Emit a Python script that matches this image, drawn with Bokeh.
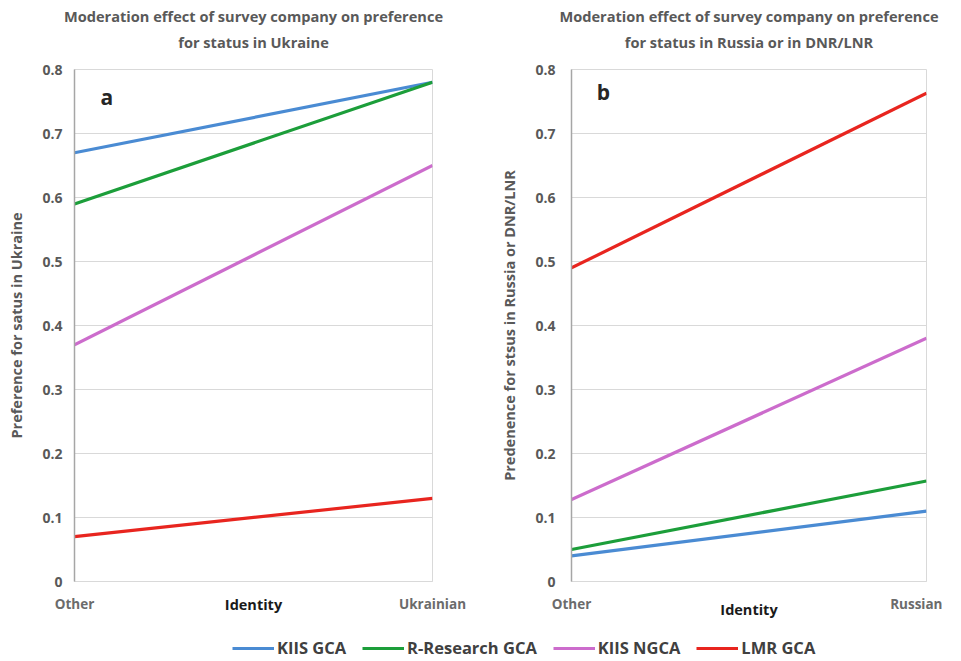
from bokeh.plotting import figure
from bokeh.layouts import column, row
from bokeh.models import Range1d, FixedTicker, Title, Label, Legend, LegendItem
from bokeh.embed import file_html
from bokeh.resources import INLINE

series = ["KIIS GCA", "R-Research GCA", "KIIS NGCA", "LMR GCA"]
colors = ["#4a8bd3", "#1c9e3a", "#cc6ccc", "#e8251f"]
x_pos = [0, 1]
cats_a = ["Other", "Ukrainian"]
cats_b = ["Other", "Russian"]
a_values = {
    "KIIS GCA": [0.67, 0.78],
    "R-Research GCA": [0.59, 0.78],
    "KIIS NGCA": [0.37, 0.65],
    "LMR GCA": [0.07, 0.13],
}
b_values = {
    "KIIS GCA": [0.04, 0.11],
    "R-Research GCA": [0.05, 0.157],
    "KIIS NGCA": [0.128, 0.38],
    "LMR GCA": [0.49, 0.763],
}
y_ticks = [0, 0.1, 0.2, 0.3, 0.4, 0.5, 0.6, 0.7, 0.8]
y_tick_labels = ["0", "0.1", "0.2", "0.3", "0.4", "0.5", "0.6", "0.7", "0.8"]

FONT = "Open Sans"
GRAY = "#595959"


def make_panel(values, cats, title1, title2, ylabel, letter, letter_y, width, bl, br,
               ystand, ylstand, xlstand):
    p = figure(width=width, height=621, output_backend="svg", toolbar_location=None,
               x_range=Range1d(0, 1), y_range=Range1d(0, 0.8),
               min_border_left=bl, min_border_right=br, min_border_top=0,
               min_border_bottom=0)
    for name, col in zip(series, colors):
        p.line(x_pos, values[name], line_color=col, line_width=3.2)
    p.title.visible = False
    # spacer between the frame and the two-line title
    p.add_layout(Title(text=" ", text_font_size="1px", standoff=11), "above")
    p.add_layout(Title(text=title2, align="center", text_font=FONT, text_font_size="14.6px",
                       text_font_style="bold", text_color=GRAY, standoff=8), "above")
    p.add_layout(Title(text=title1, align="center", text_font=FONT, text_font_size="14.6px",
                       text_font_style="bold", text_color=GRAY, standoff=0), "above")
    # small spacer above the title
    p.add_layout(Title(text=" ", text_font_size="1px", standoff=0), "above")
    p.outline_line_color = "#d9d9d9"
    p.xgrid.visible = False
    p.ygrid.grid_line_color = "#d9d9d9"
    p.ygrid.ticker = FixedTicker(ticks=y_ticks)
    p.yaxis.ticker = FixedTicker(ticks=y_ticks)
    p.yaxis.major_label_overrides = {t: l for t, l in zip(y_ticks, y_tick_labels)}
    p.xaxis.ticker = FixedTicker(ticks=x_pos)
    p.xaxis.major_label_overrides = {t: l for t, l in zip(x_pos, cats)}
    for ax in (p.xaxis, p.yaxis):
        ax.major_tick_line_color = None
        ax.minor_tick_line_color = None
        ax.major_label_text_font = FONT
        ax.major_label_text_font_style = "bold"
        ax.axis_label_text_font = FONT
        ax.axis_label_text_font_style = "bold"
    p.yaxis.major_label_text_color = GRAY
    p.yaxis.major_label_text_font_size = "14px"
    p.xaxis.major_label_text_color = "#6b6b6b"
    p.xaxis.major_label_text_font_size = "13.5px"
    p.yaxis.axis_label_text_font_size = "14.5px"
    p.xaxis.axis_label_text_font_size = "14.5px"
    p.yaxis.axis_line_color = "#a6a6a6"
    p.yaxis.axis_line_width = 1.5
    p.xaxis.axis_line_color = "#d9d9d9"
    p.yaxis.major_label_standoff = ystand
    p.xaxis.major_label_standoff = 7
    p.yaxis.axis_label = ylabel
    p.yaxis.axis_label_text_color = GRAY
    p.yaxis.axis_label_standoff = ylstand
    p.xaxis.axis_label = "Identity"
    p.xaxis.axis_label_text_color = "#1a1a1a"
    p.xaxis.axis_label_standoff = xlstand
    p.add_layout(Label(x=0.09, y=letter_y, text=letter, text_font=FONT, text_font_size="21px",
                       text_font_style="bold", text_color="#262626",
                       text_align="center", text_baseline="middle"))
    return p


p1 = make_panel(a_values, cats_a, "Moderation effect of survey company on preference",
                "for status in Ukraine", "Preference for satus in Ukraine", "a", 0.757,
                480, 74, 48, 6, 13, -21)
p2 = make_panel(b_values, cats_b, "Moderation effect of survey company on preference",
                "for status in Russia or in DNR/LNR",
                "Predenence for stsus in Russia or DNR/LNR", "b", 0.765,
                462, 91, 16, 10, 13, -16)

lg = figure(width=942, height=38, output_backend="svg", toolbar_location=None,
            x_range=Range1d(0, 1), y_range=Range1d(5, 6), min_border=0)
lg.axis.visible = False
lg.grid.visible = False
lg.outline_line_color = None
items = []
for name, col in zip(series, colors):
    r = lg.line(x_pos, a_values[name], line_color=col, line_width=3.2)
    items.append(LegendItem(label=name, renderers=[r]))
legend = Legend(items=items, orientation="horizontal", location=(232, 0),
                label_text_font=FONT, label_text_font_size="16.5px", label_text_font_style="bold",
                label_text_color="#404040", glyph_width=42, glyph_height=16,
                label_standoff=3, spacing=16, padding=0, border_line_color=None,
                background_fill_alpha=0, margin=0)
lg.add_layout(legend, "center")

layout = column(row(p1, p2), lg)
open("out.html", "w").write(file_html(layout, INLINE))
